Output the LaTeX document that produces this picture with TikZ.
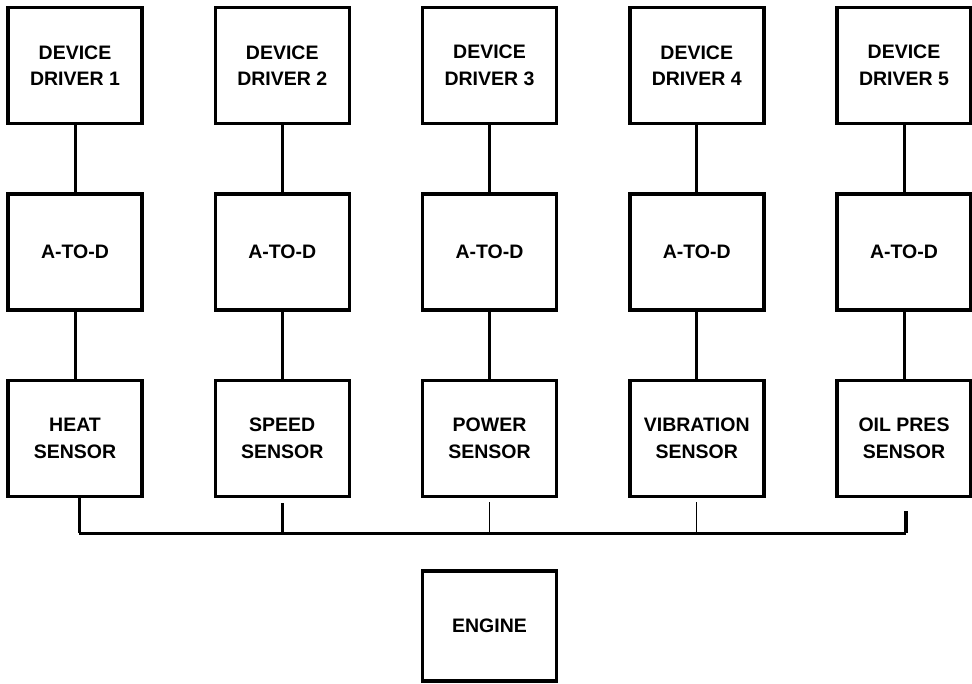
\documentclass[tikz,border=0pt]{standalone}
\usepackage{fontspec}
\setmainfont{Liberation Sans}
\begin{document}
\begin{tikzpicture}[x=1pt,y=-1pt]
				% Styles (MODIFIABLES)
				\tikzstyle{boite}=[draw,line width=3.5pt,minimum width=134pt,minimum height=116pt,inner sep=0pt,align=center,font=\fontsize{19.5}{26.5}\selectfont\bfseries]
				\tikzstyle{liaison}=[-,line width=3pt]
				\tikzstyle{bus}=[-,line width=3pt]
				% Dimensions (MODIFIABLES)
				\def\DistanceInterColonnes{207.25}
				\def\DistanceInterNiveaux{186.5}
				% Dimensions calculées (NON MODIFIABLES)
				\def\ColonneA{75+(0)*\DistanceInterColonnes}
				\def\ColonneB{75+(1)*\DistanceInterColonnes}
				\def\ColonneC{75+(2)*\DistanceInterColonnes}
				\def\ColonneD{75+(3)*\DistanceInterColonnes}
				\def\ColonneE{75+(4)*\DistanceInterColonnes}
				\def\NiveauA{65.5+(0)*\DistanceInterNiveaux}
				\def\NiveauB{65.5+(1)*\DistanceInterNiveaux}
				\def\NiveauC{65.5+(2)*\DistanceInterNiveaux}
				\useasboundingbox (0,0) rectangle (972,683);
				% Noeuds (MODIFIABLES)
				\node[boite] (drv1) at ({\ColonneA},{\NiveauA}) {DEVICE\\DRIVER 1};
				\node[boite] (drv2) at ({\ColonneB},{\NiveauA}) {DEVICE\\DRIVER 2};
				\node[boite] (drv3) at ({\ColonneC},{\NiveauA}) {DEVICE\\DRIVER 3};
				\node[boite] (drv4) at ({\ColonneD},{\NiveauA}) {DEVICE\\DRIVER 4};
				\node[boite] (drv5) at ({\ColonneE},{\NiveauA}) {DEVICE\\DRIVER 5};
				%
				\node[boite] (adc1) at ({\ColonneA},{\NiveauB}) {A-TO-D};
				\node[boite] (adc2) at ({\ColonneB},{\NiveauB}) {A-TO-D};
				\node[boite] (adc3) at ({\ColonneC},{\NiveauB}) {A-TO-D};
				\node[boite] (adc4) at ({\ColonneD},{\NiveauB}) {A-TO-D};
				\node[boite] (adc5) at ({\ColonneE},{\NiveauB}) {A-TO-D};
				%
				\node[boite] (sen1) at ({\ColonneA},{\NiveauC}) {HEAT\\SENSOR};
				\node[boite] (sen2) at ({\ColonneB},{\NiveauC}) {SPEED\\SENSOR};
				\node[boite] (sen3) at ({\ColonneC},{\NiveauC}) {POWER\\SENSOR};
				\node[boite] (sen4) at ({\ColonneD},{\NiveauC}) {VIBRATION\\SENSOR};
				\node[boite] (sen5) at ({\ColonneE},{\NiveauC}) {OIL PRES\\SENSOR};
				%
				\node[boite,minimum height=110pt] (engine) at ({\ColonneC},626) {ENGINE};
				% Bus
				\coordinate (busG) at ({\ColonneA+4},533);
				\coordinate (busD) at ({\ColonneE+2},533);
				\draw[bus] (busG)--(busD);
				% Arcs (MODIFIABLES : Styles)
				\draw[liaison] (drv1.south)--(adc1.north);
				\draw[liaison] (drv2.south)--(adc2.north);
				\draw[liaison] (drv3.south)--(adc3.north);
				\draw[liaison] (drv4.south)--(adc4.north);
				\draw[liaison] (drv5.south)--(adc5.north);
				\draw[liaison] (adc1.south)--(sen1.north);
				\draw[liaison] (adc2.south)--(sen2.north);
				\draw[liaison] (adc3.south)--(sen3.north);
				\draw[liaison] (adc4.south)--(sen4.north);
				\draw[liaison] (adc5.south)--(sen5.north);
				%
				\draw[liaison] ([xshift=4pt]sen1.south)--(busG);
				\draw[liaison,line width=3.5pt,shorten <=5pt] (sen2.south)--(sen2.south |- busG);
				\draw[liaison,line width=1.2pt,shorten <=4pt] (sen3.south)--(sen3.south |- busG);
				\draw[liaison,line width=1.2pt,shorten <=4pt] (sen4.south)--(sen4.south |- busG);
				\draw[liaison,line width=3.5pt,shorten <=13pt] ([xshift=2pt]sen5.south)--(busD);
			\end{tikzpicture}
\end{document}
